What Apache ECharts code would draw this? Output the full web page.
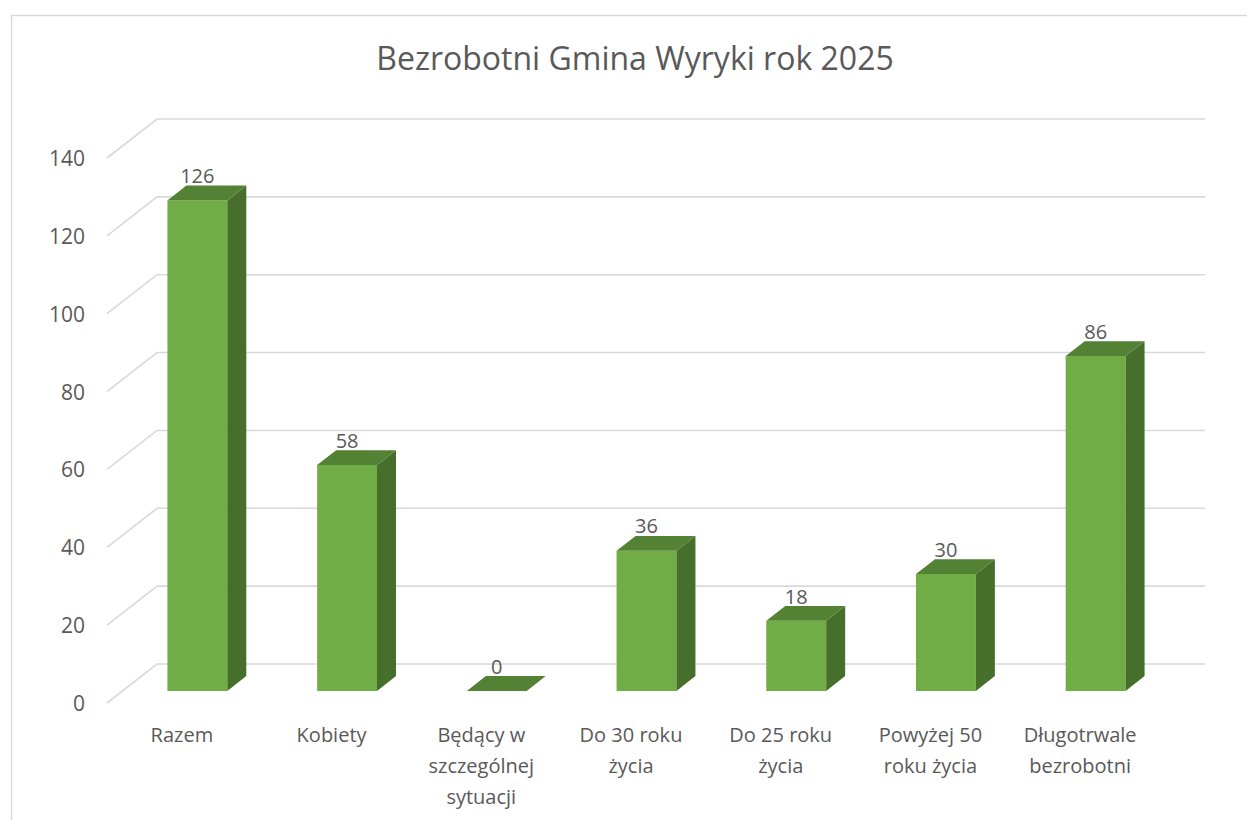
<!DOCTYPE html>
<html>
<head>
<meta charset="utf-8">
<title>Bezrobotni Gmina Wyryki rok 2025</title>
<script src="https://cdn.jsdelivr.net/npm/echarts@6.0.0/dist/echarts.min.js"></script>
<style>
  html, body { margin: 0; padding: 0; background: #fff; }
  #chart { width: 1247px; height: 820px; }
</style>
</head>
<body>
<div id="chart"></div>
<script>
const categories = [
  'Razem',
  'Kobiety',
  'Będący w\nszczególnej\nsytuacji',
  'Do 30 roku\nżycia',
  'Do 25 roku\nżycia',
  'Powyżej 50\nroku życia',
  'Długotrwale\nbezrobotni'
]
const values = [126, 58, 0, 36, 18, 30, 86]
const yTicks = [0, 20, 40, 60, 80, 100, 120, 140]

// perspective of the walls / bars
const wallDx = 50
const wallDy = -39
const barFront = 0.31
const barBack = 0.69
const textColor = '#595959'
const fontFamily = '"Open Sans", "Noto Sans", sans-serif'

const chart = echarts.init(document.getElementById('chart'), null, { renderer: 'svg' })

// grid lines: front diagonal + back wall line
const renderGridLine = (params, api) => {
  const cs = params.coordSys
  const v = api.value(0)
  const y = api.coord([0, v])[1]
  const x0 = cs.x
  return {
    type: 'polyline',
    shape: {
      points: [
        [x0, y],
        [x0 + wallDx, y + wallDy],
        [x0 + cs.width + wallDx, y + wallDy]
      ]
    },
    style: { stroke: '#d9d9d9', lineWidth: 1.6, fill: null },
    silent: true
  }
}

// 3d bar: front face, top face, right side face
const renderBar = (params, api) => {
  const idx = api.value(0)
  const val = api.value(1)
  const top = api.coord([idx, val])
  const base = api.coord([idx, 0])
  const w = api.size([1, 0])[0] * 0.4
  const fx = top[0] + wallDx * barFront
  const fyOff = wallDy * barFront
  const ddx = wallDx * (barBack - barFront)
  const ddy = wallDy * (barBack - barFront)
  const x1 = fx - w / 2
  const x2 = fx + w / 2
  const yt = top[1] + fyOff
  const yb = base[1] + fyOff
  const children = []
  if (yb - yt > 0.5) {
    children.push({
      type: 'rect',
      shape: { x: x1, y: yt, width: w, height: yb - yt },
      style: { fill: '#70ad47' }
    })
    children.push({
      type: 'polygon',
      shape: { points: [[x2, yt], [x2 + ddx, yt + ddy], [x2 + ddx, yb + ddy], [x2, yb]] },
      style: { fill: '#466f2b' }
    })
  }
  children.push({
    type: 'polygon',
    shape: { points: [[x1, yt], [x2, yt], [x2 + ddx, yt + ddy], [x1 + ddx, yt + ddy]] },
    style: { fill: '#548235' }
  })
  children.push({
    type: 'text',
    style: {
      x: fx,
      y: yt + ddy - 10,
      text: String(val),
      fill: textColor,
      font: '20px ' + fontFamily,
      textAlign: 'center',
      textVerticalAlign: 'middle'
    }
  })
  return { type: 'group', children }
}

chart.setOption({
  backgroundColor: '#ffffff',
  animation: false,
  graphic: [
    {
      type: 'rect',
      left: 9,
      top: 13,
      shape: { width: 1400, height: 1000 },
      style: { fill: null, stroke: '#d9d9d9', lineWidth: 1.5 },
      silent: true,
      z: -10
    },
    {
      type: 'text',
      x: 635,
      y: 57,
      style: {
        text: 'Bezrobotni Gmina Wyryki rok 2025',
        fill: textColor,
        font: '32px ' + fontFamily,
        textAlign: 'center',
        textVerticalAlign: 'middle'
      }
    }
  ],
  grid: { left: 107, right: 92, top: 158, bottom: 117 },
  xAxis: {
    type: 'category',
    data: categories,
    axisLine: { show: false },
    axisTick: { show: false },
    axisLabel: {
      color: textColor,
      fontSize: 20,
      fontFamily: fontFamily,
      lineHeight: 31,
      margin: 16,
      interval: 0
    }
  },
  yAxis: {
    type: 'value',
    min: 0,
    max: 140,
    interval: 20,
    splitLine: { show: false },
    axisLine: { show: false },
    axisTick: { show: false },
    axisLabel: {
      color: textColor,
      fontSize: 21,
      fontFamily: fontFamily,
      margin: 22
    }
  },
  series: [
    {
      type: 'custom',
      name: 'siatka',
      renderItem: renderGridLine,
      data: yTicks.map(v => [v]),
      encode: { y: 0 },
      z: 1
    },
    {
      type: 'custom',
      name: 'Bezrobotni',
      renderItem: renderBar,
      data: values.map((v, i) => [i, v]),
      encode: { x: 0, y: 1 },
      z: 2
    }
  ]
})
</script>
</body>
</html>
